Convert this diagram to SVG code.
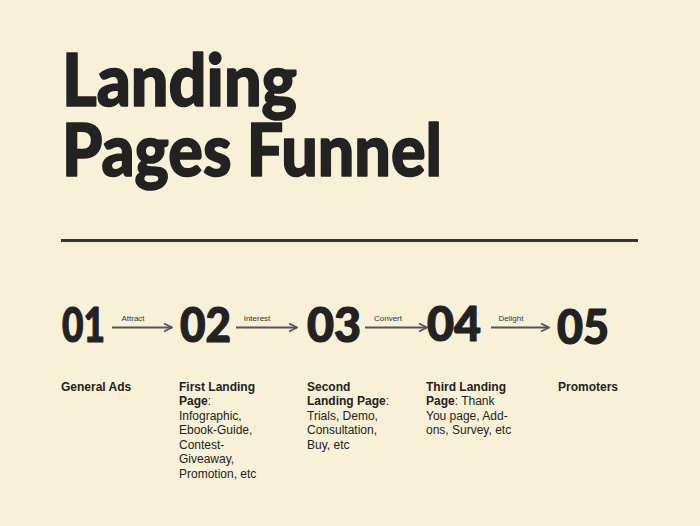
<svg xmlns="http://www.w3.org/2000/svg" width="700" height="526" viewBox="0 0 700 526">
<defs>
<style>
.title{font-family:Lato,"Open Sans",sans-serif;font-weight:900;font-size:73px;fill:#222;stroke:#222;stroke-width:1.6;stroke-linejoin:round}
.num{font-family:Lato,"Open Sans",sans-serif;font-weight:900;font-size:47px;fill:#222;stroke:#222;stroke-width:1.2;stroke-linejoin:round}
.lbl{font-family:"Liberation Sans",Arial,sans-serif;font-size:8px;fill:#333;text-anchor:middle}
.desc{font-family:"Liberation Sans",Arial,sans-serif;font-size:12px;fill:#222}
.b{font-weight:bold}
.arr{stroke:#555;stroke-width:2;fill:none}
</style>
<marker id="ah" viewBox="0 0 10 10" refX="9" refY="5" markerWidth="10" markerHeight="10" markerUnits="userSpaceOnUse" orient="auto">
<path d="M1,1 L9,5 L1,9" fill="none" stroke="#555" stroke-width="1.8"/>
</marker>
</defs>
<rect width="700" height="526" fill="#f8f1d7"/>
<g id="title">
<text class="title" x="62" y="106" textLength="235" lengthAdjust="spacingAndGlyphs">Landing</text>
<text class="title" x="62" y="176" textLength="380" lengthAdjust="spacingAndGlyphs">Pages Funnel</text>
</g>
<line x1="61" y1="240.5" x2="638" y2="240.5" stroke="#333" stroke-width="3"/>
<g id="connectors">
<line class="arr" x1="112" y1="327.5" x2="172" y2="327.5" marker-end="url(#ah)"/>
<text class="lbl" x="133" y="321">Attract</text>
<line class="arr" x1="236" y1="327.5" x2="297" y2="327.5" marker-end="url(#ah)"/>
<text class="lbl" x="257" y="321">Interest</text>
<line class="arr" x1="365" y1="327.5" x2="427" y2="327.5" marker-end="url(#ah)"/>
<text class="lbl" x="388" y="321">Convert</text>
<line class="arr" x1="491" y1="327.5" x2="549" y2="327.5" marker-end="url(#ah)"/>
<text class="lbl" x="511" y="321">Delight</text>
</g>
<g id="step1">
<text class="num" x="62" y="342" textLength="43" lengthAdjust="spacingAndGlyphs">01</text>
<text class="desc b" x="61" y="390.5">General Ads</text>
</g>
<g id="step2">
<text class="num" x="180" y="342" textLength="51" lengthAdjust="spacingAndGlyphs">02</text>
<text class="desc" x="179" y="390.5"><tspan class="b">First Landing</tspan><tspan x="179" dy="14.5"><tspan class="b">Page</tspan>:</tspan><tspan x="179" dy="14.5">Infographic,</tspan><tspan x="179" dy="14.5">Ebook-Guide,</tspan><tspan x="179" dy="14.5">Contest-</tspan><tspan x="179" dy="14.5">Giveaway,</tspan><tspan x="179" dy="14.5">Promotion, etc</tspan></text>
</g>
<g id="step3">
<text class="num" x="307" y="342" textLength="54" lengthAdjust="spacingAndGlyphs">03</text>
<text class="desc" x="307" y="390.5"><tspan class="b">Second</tspan><tspan x="307" dy="14.5"><tspan class="b">Landing Page</tspan>:</tspan><tspan x="307" dy="14.5">Trials, Demo,</tspan><tspan x="307" dy="14.5">Consultation,</tspan><tspan x="307" dy="14.5">Buy, etc</tspan></text>
</g>
<g id="step4">
<text class="num" x="427" y="341" textLength="54" lengthAdjust="spacingAndGlyphs">04</text>
<text class="desc" x="426" y="390.5"><tspan class="b">Third Landing</tspan><tspan x="426" dy="14.5"><tspan class="b">Page</tspan>: Thank</tspan><tspan x="426" dy="14.5">You page, Add-</tspan><tspan x="426" dy="14.5">ons, Survey, etc</tspan></text>
</g>
<g id="step5">
<text class="num" x="557" y="344" textLength="52" lengthAdjust="spacingAndGlyphs">05</text>
<text class="desc b" x="558" y="390.5">Promoters</text>
</g>
</svg>
